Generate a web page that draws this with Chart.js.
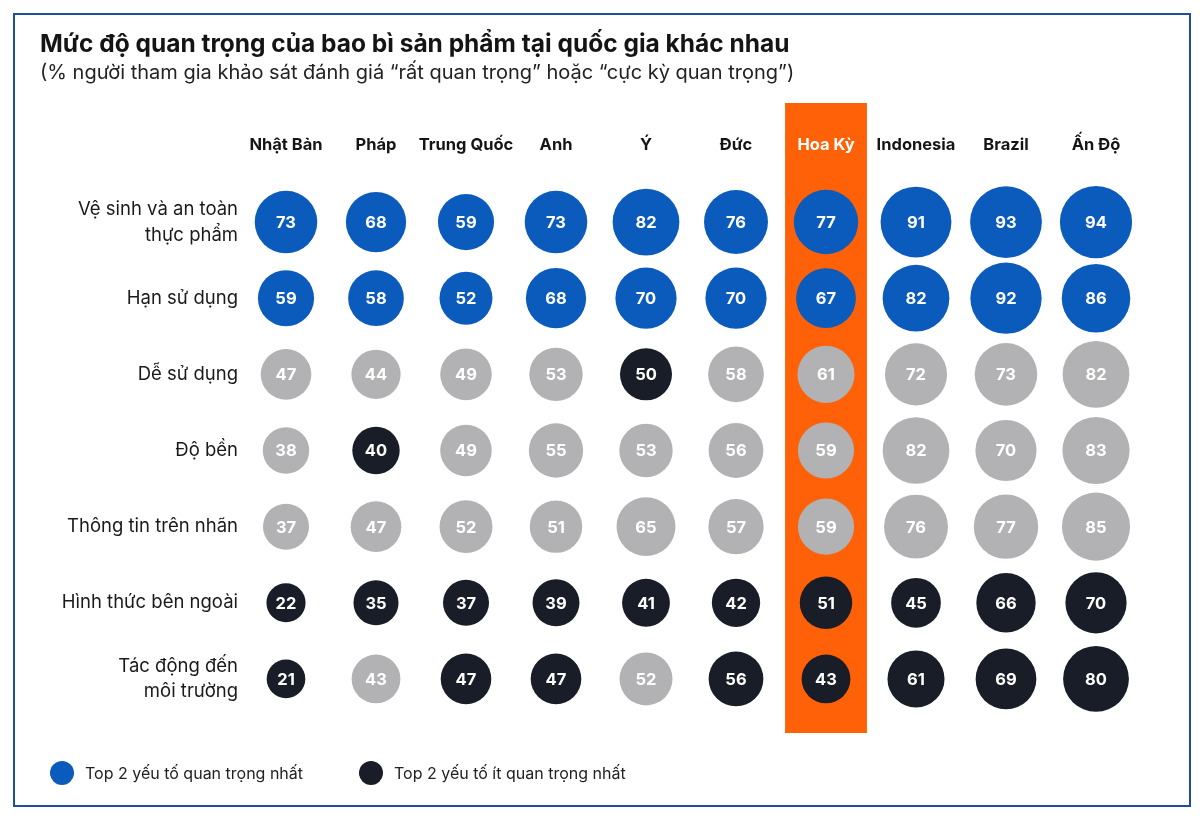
<!DOCTYPE html>
<html>
<head>
<meta charset="utf-8">
<script src="https://cdn.jsdelivr.net/npm/chart.js@4.4.1/dist/chart.umd.min.js"></script>
<style>
    body { margin: 0; background: #fff; font-family: Inter, sans-serif; }
    #wrap { position: relative; width: 1200px; height: 820px; }
    #frame {
        position: absolute; left: 13px; top: 13px; width: 1174px; height: 790px;
        border: 2px solid #1f4f9c; pointer-events: none;
    }
    .legend { position: absolute; top: 761px; display: flex; align-items: center; font-size: 16px; color: #222; }
    .legend span.dot { width: 24px; height: 24px; border-radius: 50%; margin-right: 11px; display: inline-block; }
</style>
</head>
<body>
<div id="wrap">
    <canvas id="chart" width="1200" height="820"></canvas>
    <div id="frame"></div>
    <div class="legend" style="left: 50px;"><span class="dot" style="background:#0b5bbd"></span>Top 2 yếu tố quan trọng nhất</div>
    <div class="legend" style="left: 359px;"><span class="dot" style="background:#181d27"></span>Top 2 yếu tố ít quan trọng nhất</div>
</div>
<script>
const countries = ['Nhật Bản', 'Pháp', 'Trung Quốc', 'Anh', 'Ý', 'Đức', 'Hoa Kỳ', 'Indonesia', 'Brazil', 'Ấn Độ'];
const factors = [
    'Vệ sinh và an toàn\nthực phẩm',
    'Hạn sử dụng',
    'Dễ sử dụng',
    'Độ bền',
    'Thông tin trên nhãn',
    'Hình thức bên ngoài',
    'Tác động đến\nmôi trường'
];

// one row per factor, one value per country
const values = [
    [73, 68, 59, 73, 82, 76, 77, 91, 93, 94],
    [59, 58, 52, 68, 70, 70, 67, 82, 92, 86],
    [47, 44, 49, 53, 50, 58, 61, 72, 73, 82],
    [38, 40, 49, 55, 53, 56, 59, 82, 70, 83],
    [37, 47, 52, 51, 65, 57, 59, 76, 77, 85],
    [22, 35, 37, 39, 41, 42, 51, 45, 66, 70],
    [21, 43, 47, 47, 52, 56, 43, 61, 69, 80]
];

// t = top 2, g = middle, b = bottom 2
const ranks = [
    'tttttttttt',
    'tttttttttt',
    'ggggbggggg',
    'gbgggggggg',
    'gggggggggg',
    'bbbbbbbbbb',
    'bgbbgbbbbb'
];

const highlightCountry = 'Hoa Kỳ';

const rankColors = { t: '#0b5bbd', g: '#b2b2b5', b: '#181d27' };

const points = [];
factors.forEach((f, i) => {
    countries.forEach((c, j) => {
        points.push({ x: c, y: f, v: values[i][j], rank: ranks[i][j] });
    });
});

const highlightColumn = {
    id: 'highlightColumn',
    beforeDraw(chart) {
        const x = chart.scales.x;
        const area = chart.chartArea;
        const idx = countries.indexOf(highlightCountry);
        const step = x.getPixelForTick(1) - x.getPixelForTick(0);
        const w = step * 0.91;
        const cx = x.getPixelForTick(idx);
        const ctx = chart.ctx;
        ctx.save();
        ctx.fillStyle = '#ff6108';
        ctx.fillRect(cx - w / 2, area.top - 81, w, area.bottom - area.top + 97);
        ctx.restore();
    }
};

const bubbleLabels = {
    id: 'bubbleLabels',
    afterDatasetsDraw(chart) {
        const ctx = chart.ctx;
        const meta = chart.getDatasetMeta(0);
        ctx.save();
        ctx.font = '700 16.5px Inter, sans-serif';
        ctx.fillStyle = '#fff';
        ctx.textAlign = 'center';
        ctx.textBaseline = 'middle';
        meta.data.forEach((el, k) => {
            ctx.fillText(String(points[k].v), el.x, el.y + 1);
        });
        ctx.restore();
    }
};

new Chart(document.getElementById('chart'), {
    type: 'bubble',
    data: {
        datasets: [{
            data: points,
            backgroundColor: ctx => rankColors[ctx.raw.rank],
            borderWidth: 0,
            radius: ctx => 14.5 + 0.23 * ctx.raw.v
        }]
    },
    options: {
        responsive: false,
        animation: false,
        events: [],
        layout: { padding: { top: 20, left: 40, right: 59, bottom: 103 } },
        scales: {
            x: {
                type: 'category',
                labels: countries,
                position: 'top',
                offset: true,
                grid: { display: false },
                border: { display: false },
                ticks: {
                    padding: 21,
                    autoSkip: false,
                    maxRotation: 0,
                    font: { family: 'Inter', size: 16.5, weight: '700' },
                    color: ctx => countries[ctx.index] === highlightCountry ? '#ffffff' : '#151515'
                },
                afterFit: scale => { scale.height = 98.6; }
            },
            y: {
                type: 'category',
                labels: factors,
                offset: true,
                grid: { display: false },
                border: { display: false },
                ticks: {
                    padding: -5,
                    autoSkip: false,
                    font: { family: 'Inter', size: 18.5, lineHeight: 1.4 },
                    color: '#1a1a1a',
                    callback: function(val, i) { return factors[i].split('\n'); }
                },
                afterFit: scale => { scale.width = 201; }
            }
        },
        plugins: {
            legend: { display: false },
            tooltip: { enabled: false },
            title: {
                display: true,
                align: 'start',
                text: 'Mức độ quan trọng của bao bì sản phẩm tại quốc gia khác nhau',
                color: '#141414',
                font: { family: 'Inter', size: 24.5, weight: '700' },
                padding: { top: 10, bottom: 1 }
            },
            subtitle: {
                display: true,
                align: 'start',
                text: '(% người tham gia khảo sát đánh giá “rất quan trọng” hoặc “cực kỳ quan trọng”)',
                color: '#222',
                font: { family: 'Inter', size: 20 },
                padding: { top: 1, bottom: 0 }
            }
        }
    },
    plugins: [highlightColumn, bubbleLabels]
});
</script>
</body>
</html>
